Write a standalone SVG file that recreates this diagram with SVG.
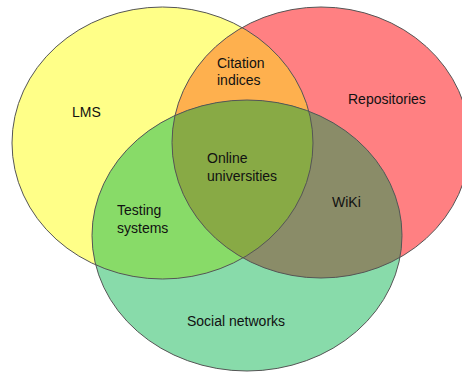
<svg xmlns="http://www.w3.org/2000/svg" width="462" height="372" viewBox="0 0 462 372">
<style>
.lbl{font-family:"Liberation Sans",Arial,sans-serif;font-size:14px;fill:#111}
.edge{fill:none;stroke:#555;stroke-width:1}
</style>
<defs>
<clipPath id="cY"><ellipse cx="162.5" cy="143" rx="150.5" ry="136"/></clipPath>
<clipPath id="cR"><ellipse cx="321" cy="142.5" rx="149" ry="135.5"/></clipPath>
<clipPath id="cG"><ellipse cx="247" cy="235.5" rx="155" ry="135.5"/></clipPath>
</defs>
<rect width="462" height="372" fill="#ffffff"/>
<g id="lms">
<ellipse cx="162.5" cy="143" rx="150.5" ry="136" fill="#FFFF88"/>
</g>
<g id="repositories">
<ellipse cx="321" cy="142.5" rx="149" ry="135.5" fill="#FF8082"/>
</g>
<g id="social-networks">
<ellipse cx="247" cy="235.5" rx="155" ry="135.5" fill="#88DBAA"/>
</g>
<g id="citation-indices" clip-path="url(#cY)">
<ellipse cx="321" cy="142.5" rx="149" ry="135.5" fill="#FEB04E"/>
</g>
<g id="testing-systems" clip-path="url(#cY)">
<ellipse cx="247" cy="235.5" rx="155" ry="135.5" fill="#88DB68"/>
</g>
<g id="wiki" clip-path="url(#cR)">
<ellipse cx="247" cy="235.5" rx="155" ry="135.5" fill="#8A8C68"/>
</g>
<g id="online-universities" clip-path="url(#cY)">
<g clip-path="url(#cR)">
<ellipse cx="247" cy="235.5" rx="155" ry="135.5" fill="#88AA45"/>
</g>
</g>
<g id="connectors">
<ellipse class="edge" cx="162.5" cy="143" rx="150.5" ry="136"/>
<ellipse class="edge" cx="321" cy="142.5" rx="149" ry="135.5"/>
<ellipse class="edge" cx="247" cy="235.5" rx="155" ry="135.5"/>
</g>
<g id="labels">
<text class="lbl" x="72" y="117">LMS</text>
<text class="lbl" x="217" y="68">Citation</text>
<text class="lbl" x="217" y="85">indices</text>
<text class="lbl" x="348" y="104">Repositories</text>
<text class="lbl" x="207" y="163">Online</text>
<text class="lbl" x="207" y="181">universities</text>
<text class="lbl" x="117" y="215">Testing</text>
<text class="lbl" x="117" y="233">systems</text>
<text class="lbl" x="332" y="207">WiKi</text>
<text class="lbl" x="187" y="326">Social networks</text>
</g>
</svg>
